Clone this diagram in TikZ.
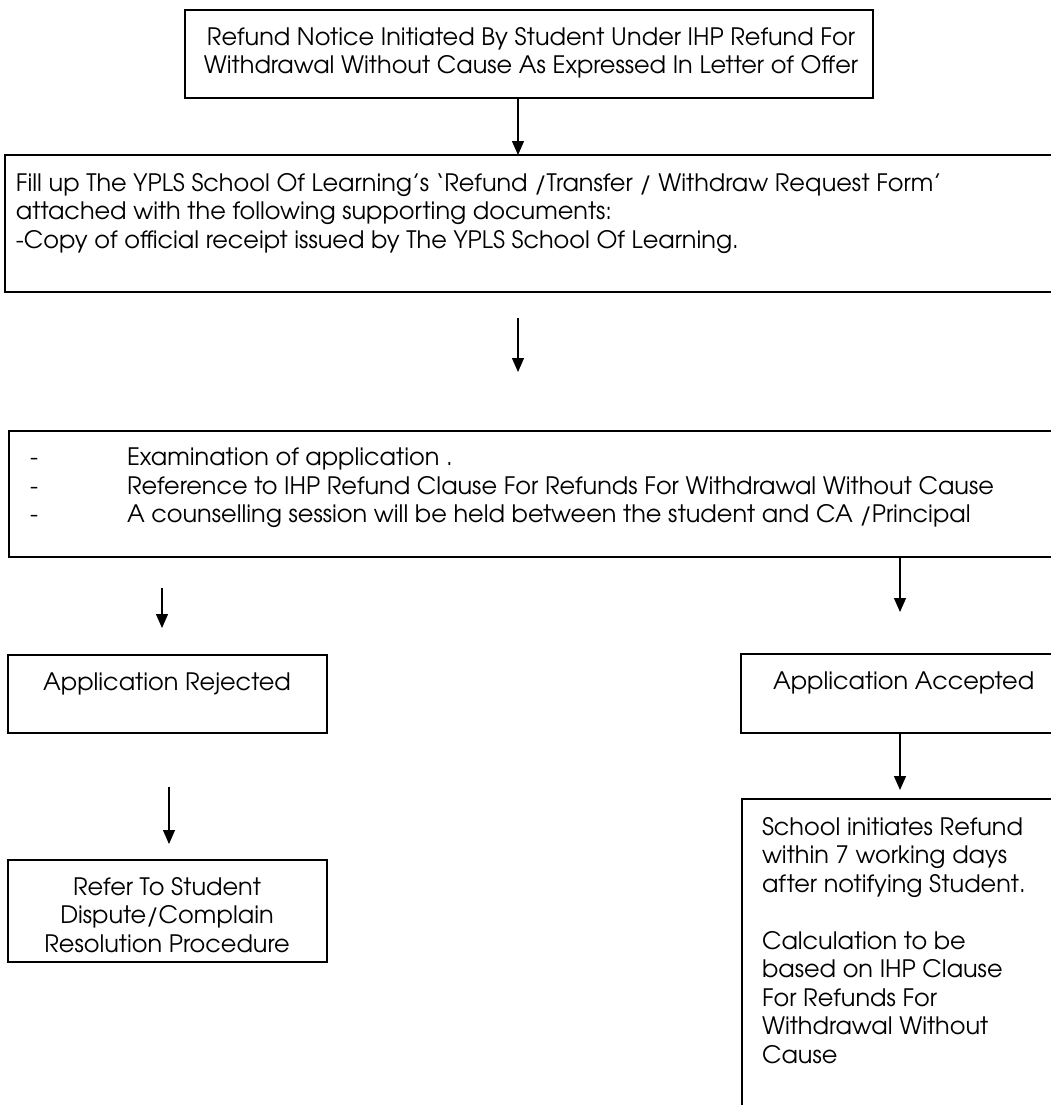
\documentclass[tikz,border=0pt]{standalone}
\usepackage{fontspec}
\setmainfont{TeX Gyre Adventor}
\usetikzlibrary{arrows.meta}
\begin{document}
\begin{tikzpicture}[x=1pt,y=-1pt,
  box/.style={draw, line width=1.5pt, rectangle, inner sep=0pt, outer sep=0pt, anchor=north west},
  txt/.style={inner sep=0pt, outer sep=0pt, font=\fontsize{24}{28.5}\selectfont},
  arr/.style={-{Triangle[width=12pt,length=14pt]}, line width=1.3pt}]
\useasboundingbox (0,0) rectangle (1051,1105);
\clip (0,0) rectangle (1051,1105);
% boxes
\node[box, minimum width=688pt, minimum height=88pt]  (b1)   at (185,10)  {};
\node[box, minimum width=1060pt, minimum height=137pt] (b2)  at (5,155)   {};
\node[box, minimum width=1056pt, minimum height=126pt] (b3)  at (9,431)   {};
\node[box, minimum width=319pt, minimum height=78pt]  (brej) at (8,655)   {};
\node[box, minimum width=324pt, minimum height=79pt]  (bacc) at (741,654) {};
\node[box, minimum width=319pt, minimum height=102pt] (bref) at (8,860)   {};
\node[box, minimum width=323pt, minimum height=330pt] (bsch) at (742,799) {};
% texts
\node[txt, anchor=north, align=center] (t1) at (531,27)
  {Refund Notice Initiated By Student Under IHP Refund For\\Withdrawal Without Cause As Expressed In Letter of Offer};
\node[txt, anchor=north west, align=left] (t2) at (16,173)
  {Fill up The YPLS School Of Learning's ‘Refund /Transfer / Withdraw Request Form’\\attached with the following supporting documents:\\-Copy of official receipt issued by The YPLS School Of Learning.};
\node[txt, anchor=north west, align=left] (t3d) at (30,448) {\vphantom{Examination}-\\-\\-};
\node[txt, anchor=north west, align=left] (t3) at (127,448)
  {Examination of application .\\Reference to IHP Refund Clause For Refunds For Withdrawal Without Cause\\A counselling session will be held between the student and CA /Principal};
\node[txt, anchor=north, align=center] (trej) at (167,673) {Application Rejected};
\node[txt, anchor=north west, align=left] (tacc) at (773,672) {Application Accepted};
\node[txt, anchor=north, align=center] (tref) at (167,877)
  {Refer To Student\\Dispute/Complain\\Resolution Procedure};
\node[txt, anchor=north west, align=left] (tsch) at (762,817)
  {School initiates Refund\\within 7 working days\\after notifying Student.\\[28.5pt]Calculation to be\\based on IHP Clause\\For Refunds For\\Withdrawal Without\\Cause};
% arrow positions
\coordinate (xm) at (518,0);
\coordinate (xr) at (900,0);
\coordinate (a2s) at (518,318);
\coordinate (a2e) at (518,372);
\coordinate (a3s) at (162,588);
\coordinate (a3e) at (162,628);
\coordinate (a4e) at (900,612);
\coordinate (a5s) at (169,787);
\coordinate (a5e) at (169,844);
\coordinate (a6e) at (900,790);
% arrows
\draw[arr] (b1.south -| xm) -- (b2.north -| xm);
\draw[arr] (a2s) -- (a2e);
\draw[arr] (a3s) -- (a3e);
\draw[arr] (b3.south -| xr) -- (a4e);
\draw[arr] (a5s) -- (a5e);
\draw[arr] (bacc.south -| xr) -- (a6e);
\end{tikzpicture}
\end{document}
